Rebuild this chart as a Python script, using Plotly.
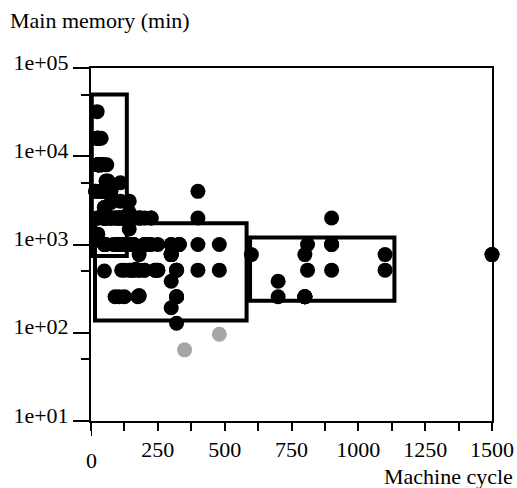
import plotly.graph_objects as go

# Machine cycle time (ns) and minimum main memory (kB) per machine
syct = [125, 29, 29, 29, 29, 26, 23, 23, 23, 23, 400, 400, 60, 50, 350, 200,
        167, 143, 143, 110, 143, 143, 143, 110, 320, 320, 320, 320, 320, 320,
        25, 25, 50, 50, 56, 64, 50, 50, 50, 50, 50, 50, 50, 50, 133, 133, 810,
        810, 320, 200, 700, 700, 140, 200, 110, 110, 220, 800, 800, 800, 800,
        800, 125, 75, 75, 75, 90, 105, 105, 105, 75, 75, 175, 300, 300, 300,
        300, 300, 300, 180, 330, 300, 300, 330, 330, 140, 140, 140, 140, 140,
        140, 140, 140, 57, 57, 26, 26, 26, 26, 480, 203, 115, 1100, 1100, 600,
        400, 400, 900, 900, 900, 900, 900, 225, 225, 180, 185, 180, 225, 25, 25,
        17, 17, 1500, 1500, 800, 50, 50, 50, 50, 50, 50, 100, 100, 100, 50, 50,
        50, 150, 115, 115, 92, 92, 92, 75, 60, 60, 60, 50, 72, 72, 40, 40, 35,
        38, 48, 38, 30, 112, 84, 56, 56, 56, 56, 56, 56, 38, 38, 38, 38, 38,
        200, 200, 200, 250, 250, 250, 160, 160, 160, 160, 160, 240, 240, 105,
        105, 105, 52, 70, 59, 59, 26, 26, 26, 116, 50, 50, 50, 50, 30, 30, 180,
        180, 180, 180, 124, 98, 125, 480, 480]
mmin = [256, 8000, 8000, 8000, 8000, 8000, 16000, 16000, 16000, 32000, 1000,
        512, 2000, 4000, 64, 512, 524, 512, 1000, 5000, 1500, 3100, 2300, 3100,
        128, 512, 256, 256, 512, 256, 1310, 1310, 2620, 2620, 5240, 5240, 500,
        1000, 2000, 1000, 1000, 2000, 2000, 2000, 1000, 1000, 512, 1000, 512,
        512, 384, 256, 1000, 1000, 1000, 1000, 1000, 256, 256, 256, 256, 256,
        512, 2000, 2000, 2000, 256, 256, 1000, 2000, 2000, 3000, 256, 768, 768,
        768, 768, 384, 192, 768, 1000, 1000, 1000, 1000, 1000, 2000, 2000, 2000,
        2000, 2000, 2000, 2000, 2000, 4000, 4000, 16000, 16000, 8000, 8000, 96,
        1000, 512, 512, 768, 768, 2000, 4000, 1000, 512, 1000, 1000, 2000, 2000,
        2000, 2000, 2000, 2000, 1000, 2000, 2000, 4000, 4000, 768, 768, 768,
        2000, 2000, 2000, 2000, 2000, 8000, 1000, 1000, 1000, 2000, 2000, 2000,
        512, 2000, 2000, 2000, 2000, 2000, 4000, 4000, 2000, 4000, 4000, 4000,
        2000, 8000, 8000, 8000, 16000, 4000, 8000, 16000, 1000, 1000, 1000,
        2000, 2000, 4000, 4000, 4000, 4000, 4000, 8000, 8000, 4000, 1000, 1000,
        2000, 512, 512, 1000, 512, 512, 1000, 1000, 2000, 512, 512, 2000, 2000,
        2000, 4000, 4000, 4000, 8000, 8000, 8000, 8000, 2000, 2000, 2000, 2000,
        4000, 8000, 8000, 262, 512, 262, 512, 1000, 1000, 2000, 512, 1000]

# Two machines shown in grey
grey_syct = [350, 480]
grey_mmin = [64, 96]

# Cluster boxes: (x0, x1, y0, y1) in data units
boxes = [
    (3, 134, 740, 50000),
    (15, 582, 138, 1740),
    (595, 1135, 230, 1200),
]

x_ticks = [0, 125, 250, 375, 500, 625, 750, 875, 1000, 1125, 1250, 1375, 1500]
x_labels = ["", "", "250", "", "500", "", "750", "", "1000", "", "1250", "", "1500"]
y_ticks = [10, 100, 1000, 10000, 100000]
y_labels = ["1e+01", "1e+02", "1e+03", "1e+04", "1e+05"]
y_minor = [50, 500, 5000, 50000]

FONT = "Liberation Serif"

grey_pairs = set(zip(grey_syct, grey_mmin))
black = [(x, y) for x, y in zip(syct, mmin) if (x, y) not in grey_pairs]

fig = go.Figure()
fig.add_trace(go.Scatter(
    x=[p[0] for p in black], y=[p[1] for p in black], mode="markers",
    marker=dict(size=15, color="black", line=dict(width=0)),
    cliponaxis=False, showlegend=False, hoverinfo="skip"))
fig.add_trace(go.Scatter(
    x=grey_syct, y=grey_mmin, mode="markers",
    marker=dict(size=15, color="#a6a6a6", line=dict(width=0)),
    cliponaxis=False, showlegend=False, hoverinfo="skip"))

for x0, x1, y0, y1 in boxes:
    fig.add_shape(type="rect", xref="x", yref="y", x0=x0, x1=x1, y0=y0, y1=y1,
                  line=dict(color="black", width=4), fillcolor="rgba(0,0,0,0)",
                  layer="below")

# longer tick under the origin
fig.add_shape(type="line", xref="x", yref="paper", x0=0, x1=0, y0=0, y1=-15 / 353,
              line=dict(color="black", width=2))

fig.update_xaxes(
    range=[0, 1500], tickmode="array", tickvals=x_ticks, ticktext=x_labels,
    ticks="outside", ticklen=8, tickwidth=2, tickcolor="black",
    showline=True, linewidth=2, linecolor="black", mirror=True,
    showgrid=False, zeroline=False, automargin=False,
    tickfont=dict(family=FONT, size=22, color="black"))
fig.update_yaxes(
    type="log", range=[1, 5], tickmode="array", tickvals=y_ticks, ticktext=y_labels,
    ticks="outside", ticklen=16, tickwidth=2, tickcolor="black",
    minor=dict(tickmode="array", tickvals=y_minor, ticks="outside", ticklen=8,
               tickwidth=2, tickcolor="black", showgrid=False),
    showline=True, linewidth=2, linecolor="black", mirror=True,
    showgrid=False, zeroline=False, automargin=False, ticklabelshift=-6,
    tickfont=dict(family=FONT, size=22, color="black"))

fig.add_annotation(text="0", xref="x", yref="paper", x=0, y=-39 / 353,
                   xanchor="center", yanchor="middle", showarrow=False,
                   font=dict(family=FONT, size=22, color="black"))
fig.add_annotation(text="Main memory (min)", xref="paper", yref="paper",
                   x=(8 - 91) / 401, y=(421 - 20) / 353, xanchor="left",
                   yanchor="middle", showarrow=False,
                   font=dict(family=FONT, size=22, color="black"))
fig.add_annotation(text="Machine cycle", xref="paper", yref="paper",
                   x=(515 - 91) / 401, y=(421 - 476) / 353, xanchor="right",
                   yanchor="middle", showarrow=False,
                   font=dict(family=FONT, size=22, color="black"))

fig.update_layout(
    width=517, height=488,
    margin=dict(l=91, r=25, t=68, b=67, autoexpand=False),
    paper_bgcolor="white", plot_bgcolor="white",
)

fig.write_html("out.html")
